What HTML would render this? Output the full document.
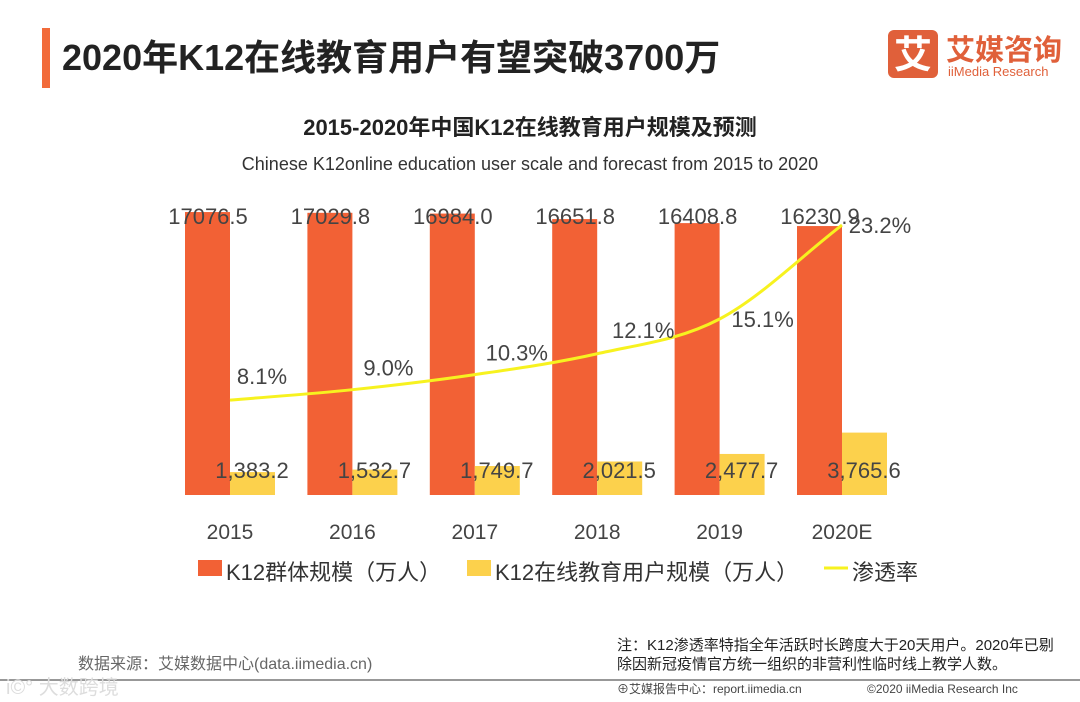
<!DOCTYPE html>
<html><head><meta charset="utf-8"><style>
body{margin:0;width:1080px;height:702px;background:#fff;overflow:hidden;font-family:"Liberation Sans","Noto Sans CJK SC",sans-serif;}
svg{display:block}
</style></head><body>
<svg width="1080" height="702" id="c" font-family="Liberation Sans, Noto Sans CJK SC, sans-serif">
<rect x="42" y="28" width="8" height="60" fill="#f26b3a"/>
<text x="62" y="70" font-size="36" font-weight="bold" fill="#222">2020年K12在线教育用户有望突破3700万</text>
<g>
<rect x="888" y="30" width="50" height="48" rx="6" fill="#e0603a"/>
<text x="913" y="68" font-size="38" font-weight="bold" fill="#fff" text-anchor="middle">艾</text>
<text x="946" y="60" font-size="29" font-weight="bold" fill="#e0603a">艾媒咨询</text>
<text x="948" y="76" font-size="13" fill="#e0603a">iiMedia Research</text>
</g>
<text x="530" y="135" font-size="22" font-weight="bold" fill="#222" text-anchor="middle">2015-2020年中国K12在线教育用户规模及预测</text>
<text x="530" y="170" font-size="18" fill="#333" text-anchor="middle">Chinese K12online education user scale and forecast from 2015 to 2020</text>
<g id="bars"></g><g id="line"></g><g id="labels"></g>
<g font-size="22" fill="#333">
<rect x="198" y="560" width="24" height="16" fill="#f26135"/>
<text x="226" y="580">K12群体规模（万人）</text>
<rect x="467" y="560" width="24" height="16" fill="#fcd14c"/>
<text x="495" y="580">K12在线教育用户规模（万人）</text>
<line x1="824" y1="568" x2="848" y2="568" stroke="#f7f21f" stroke-width="3"/>
<text x="852" y="580">渗透率</text>
</g>
<text x="617" y="650" font-size="15" fill="#222">注：K12渗透率特指全年活跃时长跨度大于20天用户。2020年已剔</text>
<text x="617" y="669" font-size="15" fill="#222">除因新冠疫情官方统一组织的非营利性临时线上教学人数。</text>
<text x="78" y="669" font-size="16" fill="#666">数据来源：艾媒数据中心(data.iimedia.cn)</text>
<line x1="0" y1="680" x2="1080" y2="680" stroke="#777" stroke-width="1.5"/>
<text x="6" y="694" font-size="20" fill="#ddd">i©° 大数跨境</text>
<text x="617" y="693" font-size="12" fill="#444">⊕艾媒报告中心：report.iimedia.cn</text>
<text x="867" y="693" font-size="12" fill="#444">©2020  iiMedia Research  Inc</text>
</svg>
<script>
const categories=["2015","2016","2017","2018","2019","2020E"];
const k12Values=[17076.5,17029.8,16984.0,16651.8,16408.8,16230.9];
const onlineValues=[1383.2,1532.7,1749.7,2021.5,2477.7,3765.6];
const rateValues=[8.1,9.0,10.3,12.1,15.1,23.2];
const NS="http://www.w3.org/2000/svg";
const baseY=495;
const xC=i=>230+i*122.4;
const yV=v=>baseY-v*0.01657;
const yR=p=>494-p*11.59;
const rateDx=[32,36,42,46,43,38];
const rateDy=[-16,-14,-14,-16,8,8];
function mk(t,a,p,txt){const e=document.createElementNS(NS,t);for(const k in a)e.setAttribute(k,a[k]);if(txt!==undefined)e.textContent=txt;document.getElementById(p).appendChild(e);return e;}
categories.forEach((c,i)=>{
 const x=xC(i);
 let r=mk("rect",{x:x-45,y:yV(k12Values[i]),width:45,height:baseY-yV(k12Values[i]),fill:"#f26135"},"bars");
 
 
 r=mk("rect",{x:x,y:yV(onlineValues[i]),width:45,height:baseY-yV(onlineValues[i]),fill:"#fcd14c"},"bars");
 
 
 let t=mk("text",{x:x-22,y:Math.min(224,yV(k12Values[i])+12),"font-size":22,fill:"#444","text-anchor":"middle"},"labels",k12Values[i].toFixed(1));
 
 
 t=mk("text",{x:x+22,y:478,"font-size":22,fill:"#444","text-anchor":"middle"},"labels",onlineValues[i].toLocaleString("en-US",{minimumFractionDigits:1}));
 
 
 t=mk("text",{x:x,y:539,"font-size":21,fill:"#444","text-anchor":"middle"},"labels",c);
 
 
 t=mk("text",{x:x+rateDx[i],y:yR(rateValues[i])+rateDy[i],"font-size":22,fill:"#444","text-anchor":"middle"},"labels",rateValues[i].toFixed(1)+"%");
 
 
});
// monotone cubic (Fritsch-Carlson)
const n=rateValues.length,xs=[],ys=[];
for(let i=0;i<n;i++){xs.push(xC(i));ys.push(yR(rateValues[i]));}
const dl=[],m=[];
for(let i=0;i<n-1;i++)dl.push((ys[i+1]-ys[i])/(xs[i+1]-xs[i]));
m[0]=dl[0];m[n-1]=dl[n-2];
for(let i=1;i<n-1;i++)m[i]=dl[i-1]*dl[i]<=0?0:(dl[i-1]+dl[i])/2;
let d="M"+xs[0]+","+ys[0];
for(let i=0;i<n-1;i++){const h=(xs[i+1]-xs[i])/3;d+=" C"+(xs[i]+h)+","+(ys[i]+m[i]*h)+" "+(xs[i+1]-h)+","+(ys[i+1]-m[i+1]*h)+" "+xs[i+1]+","+ys[i+1];}
const p=mk("path",{d:d,fill:"none",stroke:"#f7f21f","stroke-width":3},"line");


</script>
</body></html>
